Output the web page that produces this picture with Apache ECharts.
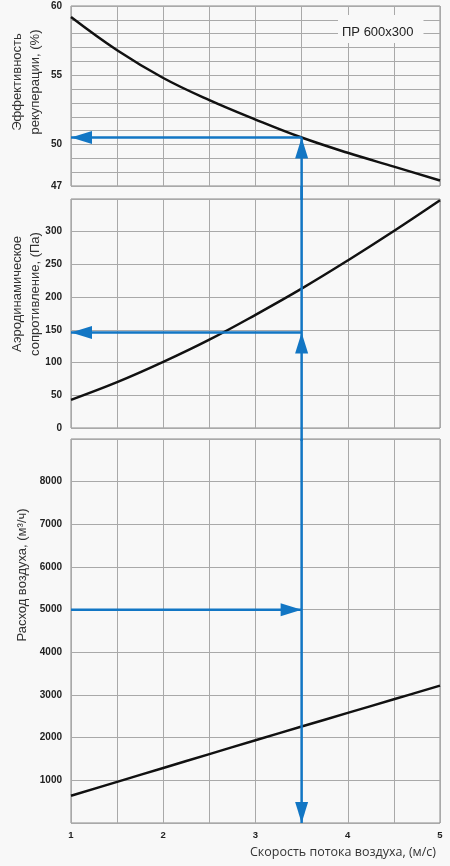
<!DOCTYPE html>
<html><head><meta charset="utf-8">
<script src="https://cdn.jsdelivr.net/npm/echarts@6/dist/echarts.min.js"></script>
<style>html,body{margin:0;padding:0;background:#f8f8f8}#c{width:450px;height:866px}</style>
</head><body><div id="c"></div>
<script>
// ---- data ----
const speed = [1, 1.5, 2, 2.5, 3, 3.5, 4, 4.5, 5];
const efficiency = [59.2, 56.8, 54.8, 53.2, 51.8, 50.5, 49.4, 48.4, 47.4];
const pressure = [43, 70, 101, 135, 173, 213, 256, 301, 348];
const airflow = [640, 965, 1290, 1615, 1940, 2260, 2580, 2900, 3220];
const speedTickLabels = [1, 2, 3, 4, 5];
const effTickLabels = [47, 50, 55, 60];
const pressureTickLabels = [0, 50, 100, 150, 200, 250, 300];
const flowTickLabels = [1000, 2000, 3000, 4000, 5000, 6000, 7000, 8000];
const exampleSpeed = 3.5;
const exampleFlow = 5000;
const examplePressure = 146;
const exampleEfficiency = 50.5;
const modelName = 'ПР 600х300';

// ---- styles ----
const BLUE = '#1276c4';
const GRID = '#a9a9a9';
const BORDER = '#8a8a8a';
const labelFont = 'Arial, "Liberation Sans", sans-serif';

const chart = echarts.init(document.getElementById('c'), null, {renderer: 'canvas'});

function xAxis(i, showLabels) {
  return {
    type: 'value', gridIndex: i, min: 1, max: 5, interval: 0.5,
    axisLine: {show: false}, axisTick: {show: false},
    splitLine: {show: true, lineStyle: {color: GRID, width: 1}},
    axisLabel: {
      show: showLabels, margin: 7, color: '#222', fontSize: 9.5, fontWeight: 'bold', fontFamily: labelFont,
      formatter: v => speedTickLabels.includes(v) ? String(v) : ''
    }
  };
}
function yAxis(i, min, max, interval, ticks) {
  return {
    type: 'value', gridIndex: i, min: min, max: max, interval: interval,
    axisLine: {show: false}, axisTick: {show: false},
    splitLine: {show: true, lineStyle: {color: GRID, width: 1}},
    axisLabel: {
      margin: 9, color: '#222', fontSize: 10, fontWeight: 'bold', fontFamily: labelFont,
      formatter: v => ticks.includes(v) ? String(v) : ''
    }
  };
}
function curve(i, ys) {
  return {
    type: 'line', xAxisIndex: i, yAxisIndex: i, smooth: 0.4, showSymbol: false,
    data: speed.map((s, k) => [s, ys[k]]),
    lineStyle: {color: '#111', width: 2.5}, z: 3, silent: true
  };
}
const ARROW = {
  left:  {rot: 90,  off: [10.5, 0]},
  right: {rot: -90, off: [-10.5, 0]},
  up:    {rot: 0,   off: [0, 10.5]},
  down:  {rot: 180, off: [0, -10.5]}
};
function pt(x, y, dir) {
  if (!dir) return {value: [x, y], symbol: 'none'};
  return {value: [x, y], symbol: 'triangle', symbolSize: [13, 21],
          symbolRotate: ARROW[dir].rot, symbolOffset: ARROW[dir].off};
}
function blue(i, pts) {
  return {
    type: 'line', xAxisIndex: i, yAxisIndex: i, clip: false, showSymbol: true,
    showAllSymbol: true, symbol: 'none', data: pts,
    lineStyle: {color: BLUE, width: 2.5}, itemStyle: {color: BLUE}, z: 5, silent: true
  };
}

const gridBase = {left: 71, right: 10, show: true, borderColor: BORDER, borderWidth: 1, containLabel: false};

const option = {
  backgroundColor: '#f8f8f8',
  animation: false,
  grid: [
    Object.assign({top: 6, height: 180}, gridBase),
    Object.assign({top: 199, height: 229}, gridBase),
    Object.assign({top: 439, height: 384}, gridBase)
  ],
  xAxis: [xAxis(0, false), xAxis(1, false), xAxis(2, true)],
  yAxis: [
    yAxis(0, 47, 60, 1, effTickLabels),
    yAxis(1, 0, 350, 50, pressureTickLabels),
    yAxis(2, 0, 9000, 1000, flowTickLabels)
  ],
  series: [
    curve(0, efficiency),
    curve(1, pressure),
    curve(2, airflow),
    // top panel: vertical up to the curve, then left to the axis
    blue(0, [pt(exampleSpeed, 46), pt(exampleSpeed, exampleEfficiency, 'up')]),
    blue(0, [pt(exampleSpeed, exampleEfficiency), pt(1, exampleEfficiency, 'left')]),
    // middle panel
    blue(1, [pt(exampleSpeed, -20), pt(exampleSpeed, examplePressure, 'up'), pt(exampleSpeed, 370)]),
    blue(1, [pt(exampleSpeed, examplePressure), pt(1, examplePressure, 'left')]),
    // bottom panel
    blue(2, [pt(1, exampleFlow), pt(exampleSpeed, exampleFlow, 'right')]),
    blue(2, [pt(exampleSpeed, 9000), pt(exampleSpeed, 0, 'down')])
  ],
  graphic: [
    {type: 'text', x: 26, y: 82, rotation: Math.PI / 2, z: 10,
     style: {text: 'Эффективность\nрекуперации, (%)', font: '13px ' + labelFont, fill: '#333',
             align: 'center', verticalAlign: 'middle', lineHeight: 18}},
    {type: 'text', x: 26, y: 294, rotation: Math.PI / 2, z: 10,
     style: {text: 'Аэродинамическое\nсопротивление, (Па)', font: '13px ' + labelFont, fill: '#333',
             align: 'center', verticalAlign: 'middle', lineHeight: 18}},
    {type: 'text', x: 22, y: 575, rotation: Math.PI / 2, z: 10,
     style: {text: 'Расход воздуха, (м³/ч)', font: '13px ' + labelFont, fill: '#333',
             align: 'center', verticalAlign: 'middle'}},
    {type: 'text', x: 436, y: 852, z: 10,
     style: {text: 'Скорость потока воздуха, (м/с)', font: '12.5px "Open Sans", sans-serif', fill: '#333',
             align: 'right', verticalAlign: 'middle'}},
    {type: 'text', x: 338, y: 15, z: 10,
     style: {text: modelName, font: '13px ' + labelFont, fill: '#222', lineHeight: 13,
             align: 'left', verticalAlign: 'top', backgroundColor: '#f8f8f8',
             padding: [11, 10, 4, 4]}}
  ]
};
chart.setOption(option);
</script>
</body></html>
